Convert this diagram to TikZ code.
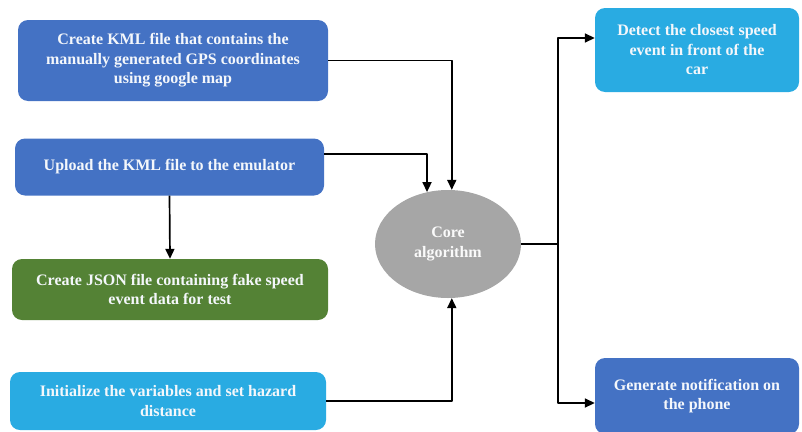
\documentclass[tikz,border=0pt]{standalone}
\usepackage{fontspec}
\setmainfont{Liberation Serif}
\usetikzlibrary{arrows.meta,shapes.geometric}
\definecolor{darkblue}{HTML}{4472C4}
\definecolor{lightblue}{HTML}{29ABE2}
\definecolor{leafgreen}{HTML}{548235}
\definecolor{coregray}{HTML}{A6A6A6}
\begin{document}
\begin{tikzpicture}[x=1pt, y=-1pt, line join=round, font=\fontsize{16}{19.5}\selectfont\bfseries, >={Triangle[length=10pt,width=9pt]}]
	\tikzset{box style/.style={rounded corners=10pt, text=white!94!darkblue, align=center, inner sep=0pt},
		link style/.style={line width=1.7pt, ->}}
	\useasboundingbox (0,0) rectangle (802,431);
	% input side
	\node[box style, fill=darkblue, minimum width=310pt, minimum height=81pt] (kml) at (173,60.5)
		{Create KML file that contains the\\manually generated GPS coordinates\\using google map};
	\node[box style, fill=darkblue, minimum width=309pt, minimum height=57pt] (upload) at (169.5,167)
		{Upload the KML file to the emulator};
	\node[box style, fill=leafgreen, minimum width=316pt, minimum height=61pt] (json) at (170,289.5)
		{Create JSON file containing fake speed\\event data for test};
	\node[box style, fill=lightblue, minimum width=316pt, minimum height=58pt] (init) at (168,401)
		{Initialize the variables and set hazard\\distance};
	% core
	\node[ellipse, fill=coregray, text=white!94!coregray, align=center, inner sep=0pt, minimum width=146pt, minimum height=108pt] (core) at (448,244)
		{Core\\algorithm};
	% output side
	\node[box style, fill=lightblue, minimum width=204pt, minimum height=84pt] (detect) at (697,50)
		{Detect the closest speed\\event in front of the\\car};
	\node[box style, fill=darkblue, minimum width=204pt, minimum height=76pt] (notify) at (697,396)
		{Generate notification on\\the phone};
	\coordinate (split) at (558,244);
	\draw[link style] (kml.east) -| (core.86);
	\draw[link style] ([yshift=13pt]upload.east) -| (core.112);
	\draw[link style] (upload.south) -- (json.north);
	\draw[link style] (init.east) -| (core.274);
	\draw[line width=1.7pt] (core.east) -- (split);
	\draw[link style] (split) |- ([yshift=12pt]detect.west);
	\draw[link style] (split) |- ([yshift=-7pt]notify.west);
\end{tikzpicture}
\end{document}
